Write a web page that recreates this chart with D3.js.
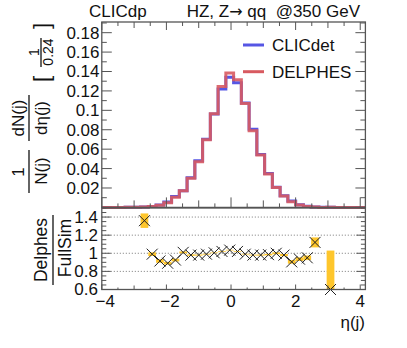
<!DOCTYPE html>
<html>
<head>
<meta charset="utf-8">
<script src="https://cdn.jsdelivr.net/npm/d3@7"></script>
<style>
  body { margin: 0; background: #fff; }
  text { font-family: "Liberation Sans", Arial, sans-serif; fill: #111; }
</style>
</head>
<body>
<svg id="chart" width="407" height="348"></svg>
<script>
// histogram binning: 34 bins of 0.24 starting at -4
const binStart = -4;
const binWidth = 0.24;

// normalised dN/deta per bin
const clicdet = [0, 0, 0, 0.0001, 0.0002, 0.0003, 0.0008, 0.0024, 0.0055, 0.0112,
  0.0171, 0.0305, 0.048, 0.0703, 0.0962, 0.122, 0.134, 0.1285, 0.1075, 0.0805,
  0.0545, 0.035, 0.0207, 0.012, 0.0065, 0.0027, 0.0011, 0.0004, 0.0001, 0.0001,
  0, 0, 0, 0];
const delphes = [0, 0, 0, 0.0001, 0.0002, 0.0004, 0.0008, 0.0022, 0.0049, 0.0104,
  0.0172, 0.030, 0.047, 0.0696, 0.0964, 0.1246, 0.1384, 0.1315, 0.107, 0.079,
  0.054, 0.0345, 0.0204, 0.0118, 0.0059, 0.0025, 0.001, 0.00045, 0, 0.00006,
  0, 0, 0, 0];

// ratio Delphes / FullSim and its error (null = empty bin)
const ratio = [null, null, null, null, null, 1.36, 0.99, 0.915, 0.89, 0.925,
  1.01, 0.98, 0.98, 0.99, 1.005, 1.02, 1.035, 1.02, 0.99, 0.98,
  0.98, 0.985, 1.0, 0.98, 0.905, 0.935, 0.95, 1.12, null, 0.6,
  null, null, null, null];
const ratioErr = [0, 0, 0, 0, 0, 0.08, 0.02, 0.02, 0.015, 0.015,
  0.01, 0.008, 0.006, 0.005, 0.004, 0.004, 0.004, 0.004, 0.004, 0.005,
  0.006, 0.008, 0.01, 0.012, 0.02, 0.02, 0.025, 0.055, 0, 0.43,
  0, 0, 0, 0];

const topTicks = [0.02, 0.04, 0.06, 0.08, 0.1, 0.12, 0.14, 0.16, 0.18];
const ratioTicks = [0.6, 0.8, 1, 1.2, 1.4];
const ratioGrid = [0.8, 1, 1.2, 1.4];
const xTicks = [-4, -2, 0, 2, 4];

const svg = d3.select("#chart");
const frameCol = "#555";
const blue = "#5656e4";
const red = "#d85a60";
const yellow = "#fec62c";

const L = 101.8, R = 365.4;
const x = d3.scaleLinear().domain([binStart, binStart + binWidth * clicdet.length]).range([L, R]);
const yTop = d3.scaleLinear().domain([0, 0.191]).range([207.4, 22]);
const yRat = d3.scaleLinear().domain([0.6, 1.5]).range([289.5, 208]);

function stepPath(vals, y) {
  const p = d3.path();
  p.moveTo(x(binStart), y(0));
  vals.forEach((v, i) => {
    const x0 = x(binStart + i * binWidth), x1 = x(binStart + (i + 1) * binWidth);
    p.lineTo(x0, y(v));
    p.lineTo(x1, y(v));
  });
  p.lineTo(x(binStart + vals.length * binWidth), y(0));
  return p.toString();
}

// ---- top pad
const topPad = svg.append("g");
topPad.append("path").attr("d", stepPath(clicdet, yTop))
  .attr("fill", "none").attr("stroke", blue).attr("stroke-width", 3);
topPad.append("path").attr("d", stepPath(delphes, yTop))
  .attr("fill", "none").attr("stroke", red).attr("stroke-width", 3).attr("stroke-opacity", 0.9);

// ticks
function xTickMarks(g, yBase, dir, lens) {
  d3.range(-4, 4.01, 0.5).forEach(t => {
    const len = Math.abs(t % 2) < 1e-6 ? lens[0] : (Math.abs(t % 1) < 1e-6 ? lens[1] : lens[2]);
    g.append("line").attr("x1", x(t)).attr("x2", x(t))
      .attr("y1", yBase).attr("y2", yBase + dir * len)
      .attr("stroke", frameCol).attr("stroke-width", 1);
  });
}
function yTickMarks(g, y, lo, hi, step, majorStep, lens) {
  const n = Math.round((hi - lo) / step);
  for (let i = 0; i <= n; i++) {
    const t = lo + i * step;
    const isMajor = Math.abs(Math.round(t / majorStep) * majorStep - t) < 1e-6;
    const len = isMajor ? lens[0] : lens[1];
    [[L, 1], [R, -1]].forEach(([xb, d]) => {
      g.append("line").attr("x1", xb).attr("x2", xb + d * len)
        .attr("y1", y(t)).attr("y2", y(t))
        .attr("stroke", frameCol).attr("stroke-width", 1);
    });
  }
}
xTickMarks(topPad, 207.4, -1, [10, 7, 4]);
xTickMarks(topPad, 22, 1, [8, 6, 4]);
yTickMarks(topPad, yTop, 0, 0.19, 0.01, 0.02, [10, 5]);

topPad.selectAll("text.ylab").data(topTicks).join("text")
  .attr("x", 99.5).attr("y", d => yTop(d)).attr("dy", "0.35em")
  .attr("text-anchor", "end").style("font-size", "17px")
  .text(d => d3.format("")(+d.toFixed(2)));

topPad.append("rect").attr("x", L).attr("y", 22).attr("width", R - L).attr("height", 207.4 - 22)
  .attr("fill", "none").attr("stroke", frameCol).attr("stroke-width", 1.3);

// legend
const legend = [["CLICdet", blue, 45], ["DELPHES", red, 71.7]];
legend.forEach(([name, col, ly]) => {
  topPad.append("line").attr("x1", 243).attr("x2", 264).attr("y1", ly).attr("y2", ly)
    .attr("stroke", col).attr("stroke-width", 3);
  topPad.append("text").attr("x", 272).attr("y", ly).attr("dy", "0.35em")
    .style("font-size", "17px").text(name);
});

// titles
svg.append("text").attr("x", 89).attr("y", 17).style("font-size", "17px").text("CLICdp");
const sub = svg.append("text").attr("x", 360).attr("y", 17).attr("text-anchor", "end")
  .style("font-size", "17px");
sub.append("tspan").text("HZ, Z");
sub.append("tspan").style("font-family", "DejaVu Sans").style("font-size", "16px").text("\u2192");
sub.append("tspan").text("\u00a0qq\u00a0\u00a0@350 GeV");

// y axis title (rotated fractions)
function rt(txt, sx, sy, size) {
  svg.append("text").attr("transform", `translate(${sx},${sy}) rotate(-90)`)
    .attr("text-anchor", "middle").attr("dy", "0.35em")
    .style("font-size", size + "px").text(txt);
}
function vbar(sx, y1, y2) {
  svg.append("line").attr("x1", sx).attr("x2", sx).attr("y1", y1).attr("y2", y2)
    .attr("stroke", "#111").attr("stroke-width", 1.3);
}
rt("1", 18, 172, 17);
vbar(29, 150, 193);
rt("N(j)", 41, 171, 17);
rt("dN(j)", 18, 118, 17);
vbar(29, 95, 141);
rt("d\u03b7(j)", 41, 118, 17);
rt("[", 41, 79, 22);
rt("1", 34, 52, 14);
vbar(41, 38, 67);
rt("0.24", 48.5, 52, 14);
rt("]", 41, 26, 22);

// ---- ratio pad
const bot = svg.append("g");
ratioGrid.forEach(v => {
  bot.append("line").attr("x1", L).attr("x2", R).attr("y1", yRat(v)).attr("y2", yRat(v))
    .attr("stroke", "#777").attr("stroke-width", 1).attr("stroke-dasharray", "1,2");
});

const pts = ratio.map((v, i) => ({ v, e: ratioErr[i], c: binStart + (i + 0.5) * binWidth, i }))
  .filter(d => d.v != null);

bot.append("g").selectAll("rect").data(pts).join("rect")
  .attr("x", d => x(d.c - binWidth / 2)).attr("width", x(binWidth) - x(0))
  .attr("y", d => Math.max(yRat(d.v + d.e), 208))
  .attr("height", d => Math.min(yRat(d.v - d.e), 289.5) - Math.max(yRat(d.v + d.e), 208))
  .attr("fill", yellow);

const mk = 5.5;
bot.append("g").selectAll("path").data(pts).join("path")
  .attr("d", d => {
    const cx = x(d.c), cy = yRat(d.v);
    return `M${cx - mk},${cy - mk}L${cx + mk},${cy + mk}M${cx - mk},${cy + mk}L${cx + mk},${cy - mk}`;
  })
  .attr("stroke", "#222").attr("stroke-width", 1).attr("fill", "none");

xTickMarks(bot, 289.5, -1, [5, 4, 2]);
yTickMarks(bot, yRat, 0.6, 1.5, 0.05, 0.2, [9, 4.5]);

bot.selectAll("text.rlab").data(ratioTicks).join("text")
  .attr("x", 98).attr("y", d => yRat(d)).attr("dy", "0.33em")
  .attr("text-anchor", "end").style("font-size", "17px")
  .text(d => d3.format("")(+d.toFixed(1)));

bot.selectAll("text.xlab").data(xTicks).join("text")
  .attr("x", d => x(d) + (d < 0 ? 3.5 : 0)).attr("y", 307)
  .attr("text-anchor", "middle").style("font-size", "17px")
  .text(d => d < 0 ? "\u2212" + Math.abs(d) : d);

bot.append("rect").attr("x", L).attr("y", 208).attr("width", R - L).attr("height", 289.5 - 208)
  .attr("fill", "none").attr("stroke", frameCol).attr("stroke-width", 1.3);

svg.append("text").attr("x", 365).attr("y", 328).attr("text-anchor", "end")
  .style("font-size", "17px").text("\u03b7(j)");

rt("Delphes", 41, 250, 17.5);
vbar(53, 215, 285);
rt("FullSim", 65, 248, 17.5);
</script>
</body>
</html>
